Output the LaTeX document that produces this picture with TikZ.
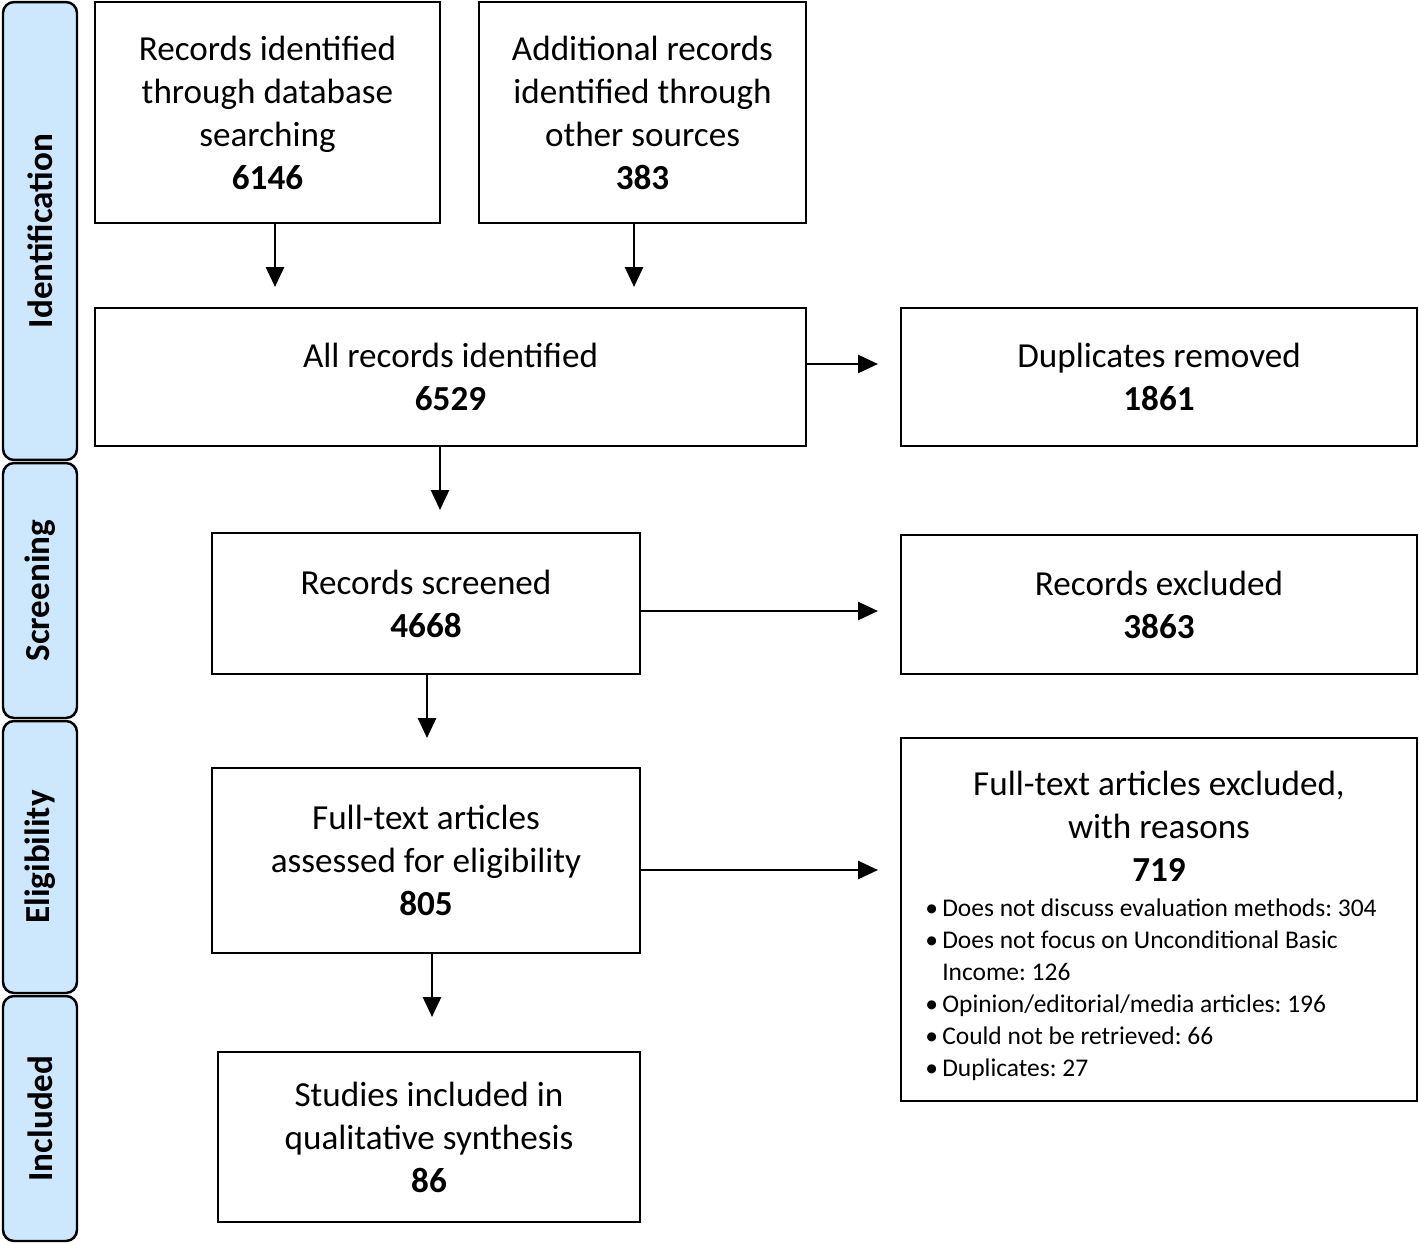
\documentclass[tikz,border=0pt]{standalone}
\usepackage{fontspec}
\setmainfont{Carlito}
\usetikzlibrary{arrows.meta}
\definecolor{stagebg}{RGB}{205,232,252}
\frenchspacing
\begin{document}
\begin{tikzpicture}
	[x=0.02cm, y=-0.02cm,
	box/.style={draw, line width=1.4pt, align=center, inner sep=0pt,
		font=\fontsize{20}{24.5}\selectfont},
	stage/.style={draw, line width=1.4pt, fill=stagebg, rounded corners=0.22cm,
		rotate=90, minimum height=1.48cm, inner sep=0pt,
		font=\fontsize{20}{24}\selectfont\bfseries},
	arr/.style={line width=1.6pt, -{Triangle[length=0.4cm, width=0.36cm]}}]
	\useasboundingbox (0,0) rectangle (1419,1244);
	% phases
	\node[stage, minimum width=9.16cm] (sid) at (40,231) {Identification};
	\node[stage, minimum width=5.1cm] (sscr) at (40,590.5) {Screening};
	\node[stage, minimum width=5.44cm] (selig) at (40,857) {Eligibility};
	\node[stage, minimum width=4.9cm] (sincl) at (40,1118.5) {Included};
	% boxes
	\node[box, minimum width=6.9cm, minimum height=4.42cm] (db) at (267.5,112.5)
		{Records identified\\through database\\searching\\\textbf{6146}};
	\node[box, minimum width=6.54cm, minimum height=4.42cm] (other) at (642.5,112.5)
		{Additional records\\identified through\\other sources\\\textbf{383}};
	\node[box, minimum width=14.22cm, minimum height=2.76cm] (all) at (450.5,377)
		{All records identified\\\textbf{6529}};
	\node[box, minimum width=10.32cm, minimum height=2.76cm] (dup) at (1159,377)
		{Duplicates removed\\\textbf{1861}};
	\node[box, minimum width=8.56cm, minimum height=2.82cm] (scr) at (426,603.5)
		{Records screened\\\textbf{4668}};
	\node[box, minimum width=10.32cm, minimum height=2.78cm] (excl) at (1159,604.5)
		{Records excluded\\\textbf{3863}};
	\node[box, minimum width=8.56cm, minimum height=3.7cm] (full) at (426,860.5)
		{Full-text articles\\assessed for eligibility\\\textbf{805}};
	\node[box, minimum width=10.32cm, minimum height=7.26cm] (ftex) at (1159,919.5) {};
	\node[align=center, inner sep=0pt, font=\fontsize{20}{24.5}\selectfont]
		(ftexhead) at (1159,826.5)
		{Full-text articles excluded,\\with reasons\\\textbf{719}};
	\node[anchor=north west, align=left, inner sep=0pt,
		font=\fontsize{14.5}{18.3}\selectfont] (reasons) at (925,898)
		{\textbullet\,Does not discuss evaluation methods:\ 304\\
		 \textbullet\,Does not focus on Unconditional Basic\\
		 \hphantom{\textbullet\,}Income: 126\\
		 \textbullet\,Opinion/editorial/media articles: 196\\
		 \textbullet\,Could not be retrieved: 66\\
		 \textbullet\,Duplicates: 27};
	\node[box, minimum width=8.44cm, minimum height=3.4cm] (incl) at (429,1137)
		{Studies included in\\qualitative synthesis\\\textbf{86}};
	% arrow ends
	\coordinate (e1) at (275,287);
	\coordinate (e2) at (634,287);
	\coordinate (e3) at (878,364);
	\coordinate (e4) at (440,510);
	\coordinate (e5) at (878,611);
	\coordinate (e6) at (427,738);
	\coordinate (e7) at (878,870);
	\coordinate (e8) at (432,1017);
	\draw[arr] (db.south -| e1) -- (e1);
	\draw[arr] (other.south -| e2) -- (e2);
	\draw[arr] (all.east |- e3) -- (e3);
	\draw[arr] (all.south -| e4) -- (e4);
	\draw[arr] (scr.east |- e5) -- (e5);
	\draw[arr] (scr.south -| e6) -- (e6);
	\draw[arr] (full.east |- e7) -- (e7);
	\draw[arr] (full.south -| e8) -- (e8);
\end{tikzpicture}
\end{document}
